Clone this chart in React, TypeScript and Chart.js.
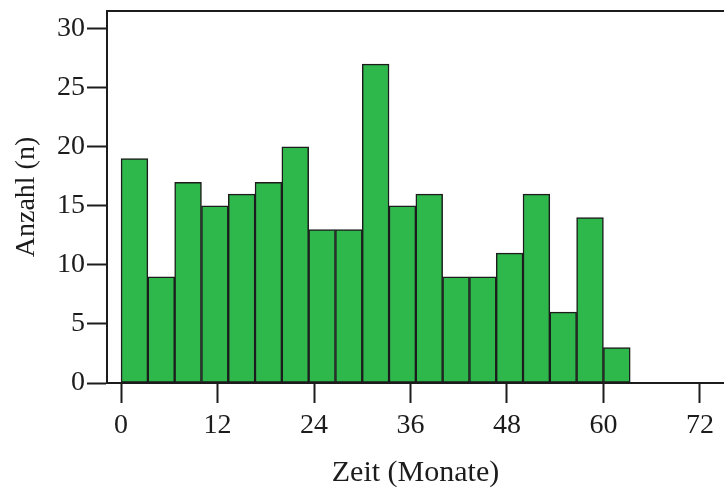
import React, { useEffect, useRef } from "react";
import { Chart, registerables } from "chart.js";

Chart.register(...registerables);

// Histogram of follow-up time: counts per bin of 10/3 months
const binWidthMonths = 10 / 3;
const binCounts = [19, 9, 17, 15, 16, 17, 20, 13, 13, 27, 15, 16, 9, 9, 11, 16, 6, 14, 3];
const xTickValues = [0, 12, 24, 36, 48, 60, 72];
const yTickValues = [0, 5, 10, 15, 20, 25, 30];
const xTitle = "Zeit (Monate)";
const yTitle = "Anzahl (n)";

const FONT = "'Liberation Serif', 'Times New Roman', serif";
const INK = "#1c1c1c";
const BAR_FILL = "#2eb84b";

// Closes the frame along the top of the plot area
const frameTop = {
  id: "frameTop",
  afterDraw(chart: any) {
    const { ctx, chartArea } = chart;
    ctx.save();
    ctx.strokeStyle = INK;
    ctx.lineWidth = 2;
    ctx.beginPath();
    ctx.moveTo(chartArea.left - 1, chartArea.top);
    ctx.lineTo(chartArea.right, chartArea.top);
    ctx.stroke();
    ctx.restore();
  },
};

export default function App() {
  const canvasRef = useRef<HTMLCanvasElement | null>(null);

  useEffect(() => {
    if (!canvasRef.current) return;
    const points = binCounts.map((n, i) => ({ x: (i + 0.5) * binWidthMonths, y: n }));

    const chart = new Chart(canvasRef.current, {
      type: "bar",
      data: {
        datasets: [
          {
            data: points as any,
            backgroundColor: BAR_FILL,
            borderColor: INK,
            borderWidth: 1.5,
            borderSkipped: false,
            barPercentage: 1,
            categoryPercentage: 1,
          },
        ],
      },
      plugins: [frameTop],
      options: {
        animation: false,
        responsive: true,
        maintainAspectRatio: false,
        layout: { padding: { top: 11, right: 0, bottom: 0, left: 0 } },
        plugins: {
          legend: { display: false },
          tooltip: { enabled: false },
        },
        scales: {
          x: {
            type: "linear",
            min: -1.75,
            max: 75,
            offset: false,
            afterFit: (s: any) => {
              s.height = 111;
              s.paddingLeft = 0;
              s.paddingRight = 0;
            },
            afterBuildTicks: (s: any) => {
              s.ticks = xTickValues.map((v) => ({ value: v }));
            },
            grid: {
              offset: false,
              drawOnChartArea: false,
              drawTicks: true,
              tickLength: 20,
              tickWidth: 2,
              tickColor: INK,
            },
            border: { display: true, color: INK, width: 2 },
            ticks: {
              font: { family: FONT, size: 28 },
              color: INK,
              padding: 6,
              maxRotation: 0,
              autoSkip: false,
            },
            title: {
              display: true,
              text: xTitle,
              font: { family: FONT, size: 30 },
              color: INK,
              padding: { top: 0, bottom: 3 },
            },
          },
          y: {
            min: 0,
            max: 31.5,
            afterFit: (s: any) => {
              s.width = 107;
              s.paddingTop = 0;
              s.paddingBottom = 0;
            },
            afterBuildTicks: (s: any) => {
              s.ticks = yTickValues.map((v) => ({ value: v }));
            },
            grid: {
              drawOnChartArea: false,
              drawTicks: true,
              tickLength: 20,
              tickWidth: 2,
              tickColor: INK,
            },
            border: { display: true, color: INK, width: 2 },
            ticks: {
              font: { family: FONT, size: 28 },
              color: INK,
              padding: 2,
            },
            title: {
              display: true,
              text: yTitle,
              font: { family: FONT, size: 28 },
              color: INK,
              padding: { top: 10, bottom: 0 },
            },
          },
        },
      },
    });
    return () => chart.destroy();
  }, []);

  return (
    <div style={{ position: "absolute", left: 0, top: 0, width: 724, height: 494, background: "#fff" }}>
      <canvas ref={canvasRef} />
    </div>
  );
}
